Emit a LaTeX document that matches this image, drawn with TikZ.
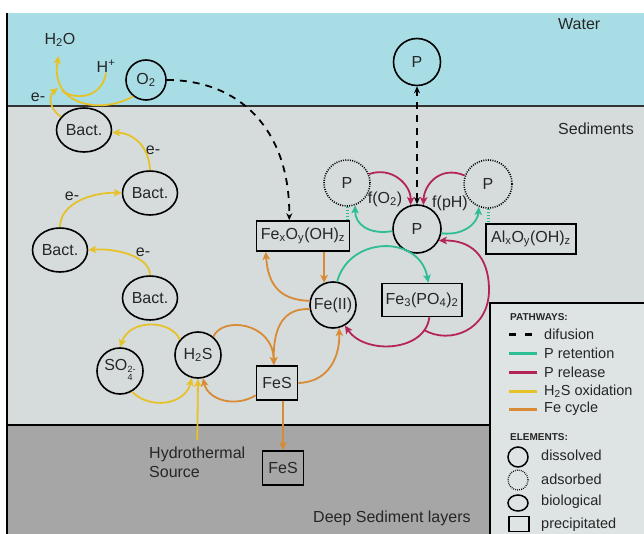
\documentclass[tikz,border=0pt]{standalone}
\usepackage{fontspec}
\setmainfont{Liberation Sans}
\usetikzlibrary{arrows.meta,shapes.geometric}
\definecolor{waterc}{HTML}{A9DDE6}
\definecolor{sedc}{HTML}{D6DCDC}
\definecolor{deepc}{HTML}{A6A6A6}
\definecolor{legc}{HTML}{DEE3E3}
\definecolor{grnc}{HTML}{2DBE96}
\definecolor{redc}{HTML}{B52457}
\definecolor{yelc}{HTML}{E6C22A}
\definecolor{orac}{HTML}{D98A35}
\begin{document}
\begin{tikzpicture}[x=1pt,y=-1pt,
  every node/.style={font=\fontsize{16}{19}\selectfont,text=black!85},
  sol/.style={circle,draw,line width=1.6pt,minimum size=46pt,inner sep=0pt},
  ads/.style={sol,dash pattern=on 1pt off 1.3pt},
  bio/.style={ellipse,draw,line width=1.6pt,minimum width=55pt,minimum height=44pt,inner sep=0pt},
  prec/.style={rectangle,draw,line width=1.6pt,inner sep=3pt,minimum height=32pt},
  lbl/.style={inner sep=0pt},
  arr/.style={line width=1.8pt,-{Stealth[length=8pt,width=7.5pt,inset=2pt]}},
  yel/.style={arr,draw=yelc},
  ora/.style={arr,draw=orac},
  grn/.style={arr,draw=grnc},
  rd/.style={arr,draw=redc},
  dif/.style={line width=1.8pt,dash pattern=on 7pt off 6pt},
  gdot/.style={draw=grnc,line width=3pt,dash pattern=on 1.5pt off 1.5pt},
  leg/.style={anchor=west,inner sep=0pt,font=\fontsize{14.5}{17}\selectfont},
  leghead/.style={anchor=west,inner sep=0pt,font=\fontsize{10}{12}\selectfont\bfseries}
]
\useasboundingbox (0,0) rectangle (644,534);
% layers
\fill[white] (0,0) rectangle (644,534);
\fill[waterc] (7,13) rectangle (644,106);
\fill[sedc] (7,106) rectangle (644,425);
\fill[deepc] (7,425) rectangle (644,534);
\draw[line width=2.5pt,black!80] (7,106) -- (644,106);
\draw[line width=1.5pt] (7,425) -- (490,425);
\draw[line width=2pt] (7,13) -- (7,534);
\node[lbl,anchor=west] (water) at (558,24) {Water};
\node[lbl,anchor=west] (sed) at (558,129) {Sediments};
\node[lbl,anchor=west] (deep) at (313,518) {Deep Sediment layers};

% nodes
\node[lbl] (h2o) at (60,40) {H\textsubscript{2}O};
\node[lbl] (hplus) at (106,66) {H\textsuperscript{+}};
\node[sol,minimum size=40pt] (o2) at (146,80) {O\textsubscript{2}};
\node[bio] (b1) at (84,130) {Bact.};
\node[bio] (b2) at (150,193) {Bact.};
\node[bio] (b3) at (60,250) {Bact.};
\node[bio] (b4) at (150,298) {Bact.};
\node[sol] (h2s) at (198,355) {H\textsubscript{2}S};
\node[sol] (so4) at (120,371) {SO\kern0.3pt\raisebox{-0.42em}{\fontsize{9}{9}\selectfont\begin{tabular}{@{}l@{}}2-\\[-1pt]4\end{tabular}}};
\node[prec,minimum width=41pt,minimum height=34pt] (fes1) at (277,383) {FeS};
\node[prec,minimum width=41pt,minimum height=34pt] (fes2) at (283,468) {FeS};
\node[sol] (feii) at (333,305) {Fe(II)};
\node[prec,minimum width=93pt,minimum height=30pt] (feox) at (303,236) {Fe\textsubscript{x}O\textsubscript{y}(OH)\textsubscript{z}};
\node[prec,minimum width=80pt,minimum height=33pt] (fepo) at (422,300) {Fe\textsubscript{3}(PO\textsubscript{4})\textsubscript{2}};
\node[sol,minimum size=48pt] (pbig) at (417,229) {P};
\node[sol,minimum size=47pt] (pw) at (417,62) {P};
\node[ads] (pl) at (347,183) {P};
\node[ads,minimum size=48pt] (pr) at (488,184) {P};
\node[prec,minimum width=90pt,minimum height=30pt] (alox) at (531,239) {Al\textsubscript{x}O\textsubscript{y}(OH)\textsubscript{z}};
\node[lbl,anchor=north west,align=left] (hydro) at (149,447) {Hydrothermal\\Source};
\node[lbl] (fo2) at (385,199) {f(O\textsubscript{2})};
\node[lbl] (fph) at (450,203) {f(pH)};
\node[lbl] (e1) at (38,97) {e-};
\node[lbl] (e2) at (153,150) {e-};
\node[lbl] (e3) at (72,196) {e-};
\node[lbl] (e4) at (143,252) {e-};
\coordinate (j) at (58,88);
\coordinate (br) at (424,330);

% yellow: H2S oxidation
\draw[yel,shorten >=9pt] (o2.232) .. controls (100,115) and (50,105) .. (h2o.south);
\draw[line width=1.8pt,yelc] (hplus.south) .. controls (103,95) and (80,102) .. (62,91);
\draw[yel] (b1.150) .. controls (48,108) and (49,95) .. (j);
\draw[yel] (b2.north) .. controls (149,145) and (132,133) .. (b1.-5);
\draw[yel] (b3.north) .. controls (60,202) and (95,192) .. (b2.west);
\draw[yel] (b4.north) .. controls (150,256) and (115,248) .. (b3.east);
\draw[yel] (h2s.140) .. controls (172,320) and (130,318) .. (so4.north);
\draw[yel] (so4.-60) .. controls (150,410) and (185,405) .. (h2s.-105);
\draw[yel,shorten <=7pt] (hydro.north) -- (h2s.south);

% orange: Fe cycle
\draw[ora] (fes1.210) .. controls (235,408) and (208,400) .. (h2s.-78);
\draw[ora] (h2s.50) .. controls (222,316) and (273,322) .. (fes1.100);
\draw[ora] (feii.190) .. controls (285,308) and (273,325) .. (fes1.100);
\draw[ora] (fes1.east) .. controls (330,382) and (340,355) .. (feii.-75);
\draw[ora] (fes1.south -| fes2.north) -- (fes2.north);
\draw[ora] (feox.south -| feii.112) -- (feii.112);
\draw[ora] (feii.170) .. controls (280,300) and (268,285) .. (feox.203);

% diffusion
\draw[dif,-{Stealth[length=7pt,width=6pt]}] (o2.east) .. controls (240,80) and (290,130) .. (feox.131);
\draw[dif,{Stealth[length=7pt,width=6pt]}-{Stealth[length=7pt,width=6pt]}] (pbig.north) -- (pw.south);

% red: P release
\draw[rd] (pl.22) .. controls (392,166) and (411,185) .. (pbig.105);
\draw[rd] (pr.160) .. controls (440,165) and (424,185) .. (pbig.75);
\draw[rd] (fepo.-67) .. controls (425,352) and (365,355) .. (feii.-60);
\draw[rd] (br) .. controls (450,345) and (489,330) .. (489,290) .. controls (489,255) and (470,240) .. (pbig.-28);

% green: P retention
\draw[grn] (pbig.185) .. controls (370,235) and (355,225) .. (pl.-70);
\draw[grn] (pbig.-10) .. controls (465,236) and (478,222) .. (pr.-112);
\draw[grn] (feii.80) .. controls (350,235) and (420,235) .. (fepo.70);
\draw[gdot] (pl.south) -- (feox.north -| pl.south);
\draw[gdot] (pr.south) -- (alox.north -| pr.south);

% legend
\fill[legc] (490,303) rectangle (644,534);
\draw[line width=1.5pt] (490,534) -- (490,303) -- (644,303);
\node[leghead] (lp) at (510,317) {PATHWAYS:};
\coordinate (l1a) at (509,334); \coordinate (l1b) at (534,334);
\coordinate (l2a) at (509,353); \coordinate (l2b) at (537,353);
\coordinate (l3a) at (509,372); \coordinate (l3b) at (537,372);
\coordinate (l4a) at (509,391); \coordinate (l4b) at (537,391);
\coordinate (l5a) at (509,409); \coordinate (l5b) at (537,409);
\draw[line width=3pt,dash pattern=on 7pt off 9pt] (l1a) -- (l1b);
\draw[line width=3pt,grnc] (l2a) -- (l2b);
\draw[line width=3pt,redc] (l3a) -- (l3b);
\draw[line width=3pt,yelc] (l4a) -- (l4b);
\draw[line width=3pt,orac] (l5a) -- (l5b);
\node[leg] (t1) at (544,334) {difusion};
\node[leg] (t2) at (544,353) {P retention};
\node[leg] (t3) at (544,372) {P release};
\node[leg] (t4) at (544,391) {H\textsubscript{2}S oxidation};
\node[leg] (t5) at (544,409) {Fe cycle};
\node[leghead] (le) at (510,437) {ELEMENTS:};
\node[circle,draw,line width=1.5pt,minimum size=20pt,inner sep=0pt] (s1) at (518,457) {};
\node[circle,draw,line width=1.3pt,dash pattern=on 0.8pt off 1.2pt,minimum size=20pt,inner sep=0pt] (s2) at (518,480) {};
\node[ellipse,draw,line width=1.5pt,minimum width=20pt,minimum height=16pt,inner sep=0pt] (s3) at (518,503) {};
\node[rectangle,draw,line width=1.5pt,minimum width=20pt,minimum height=15pt,inner sep=0pt] (s4) at (519,524) {};
\node[leg] (u1) at (541,455) {dissolved};
\node[leg] (u2) at (541,479) {adsorbed};
\node[leg] (u3) at (541,502) {biological};
\node[leg] (u4) at (541,525) {precipitated};
\end{tikzpicture}
\end{document}
